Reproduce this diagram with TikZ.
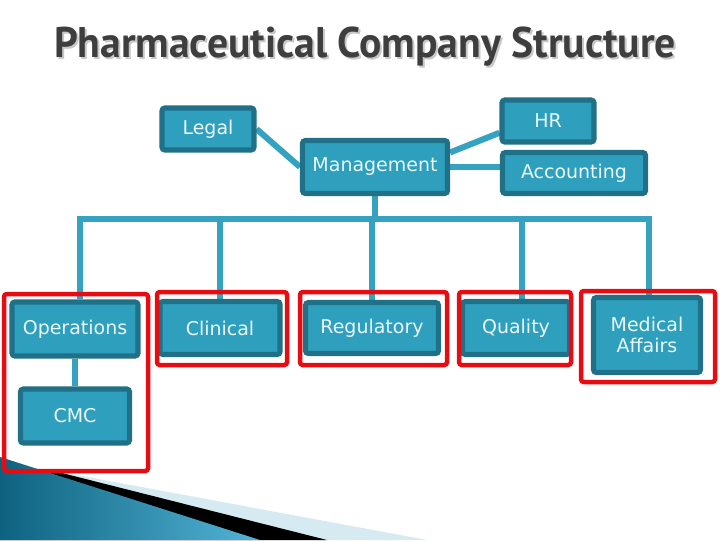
\documentclass[tikz,border=0pt]{standalone}
\usepackage{fontspec}
\setmainfont{DejaVu Sans}
\newfontfamily\titlefont[FakeStretch=0.97]{PT Sans}
\usepackage{tikz}
\usetikzlibrary{calc, backgrounds}
\usepackage{xcolor}
\definecolor{cBox}{RGB}{46,160,190}
\definecolor{cEdge}{RGB}{32,112,135}
\definecolor{cLine}{RGB}{52,162,192}
\definecolor{cText}{RGB}{235,246,250}
\definecolor{cTitle}{RGB}{62,62,62}
\definecolor{cShadow}{RGB}{200,200,200}
\definecolor{cMark}{RGB}{232,12,18}
\definecolor{cSwoopA}{RGB}{14,98,128}
\definecolor{cSwoopB}{RGB}{82,180,214}
\definecolor{cSwoopC}{RGB}{214,234,242}
\tikzset{
  unitbox/.style={rectangle, rounded corners=2pt, draw=cEdge, fill=cBox,
                  line width=3.6pt, align=center, text=cText,
                  font=\fontsize{13.5}{16}\selectfont, inner sep=2pt},
  link/.style={draw=cLine, line width=4.3pt},
  markbox/.style={draw=cMark, line width=3.2pt, rounded corners=2pt}
}

\begin{document}
\begin{tikzpicture}[x=0.025cm, y=-0.025cm]
  \useasboundingbox (0,0) rectangle (720,540);

  % title
  \node[text=cShadow, font=\titlefont\bfseries\fontsize{30.5}{34}\selectfont]
    (titleshadow) at (367,49) {Pharmaceutical Company Structure};
  \node[text=cTitle, font=\titlefont\bfseries\fontsize{30.5}{34}\selectfont]
    (title) at (365,47) {Pharmaceutical Company Structure};

  % top level
  \node[unitbox, minimum width=2.3cm, minimum height=1.05cm] (legal) at (208,129) {Legal};
  \node[unitbox, minimum width=3.625cm, minimum height=1.325cm] (mgmt) at (375,167) {Management};
  \node[unitbox, minimum width=2.3cm, minimum height=1.05cm] (hr) at (548,121) {HR};
  \node[unitbox, minimum width=3.575cm, minimum height=1.025cm] (acct) at (574,173) {Accounting};

  % departments
  \node[unitbox, minimum width=3.15cm, minimum height=1.35cm] (ops) at (75,329) {Operations};
  \node[unitbox, minimum width=2.725cm, minimum height=1.35cm] (cmc) at (75,416) {CMC};
  \node[unitbox, minimum width=3.0cm, minimum height=1.325cm] (clin) at (220,328) {Clinical};
  \node[unitbox, minimum width=3.325cm, minimum height=1.275cm] (reg) at (372,328) {Regulatory};
  \node[unitbox, minimum width=2.675cm, minimum height=1.325cm] (qual) at (516,328) {Quality};
  \node[unitbox, minimum width=2.675cm, minimum height=1.875cm] (med) at (647,335) {Medical\\[-1pt]Affairs};

  \coordinate (busL) at (80,219);
  \coordinate (busR) at (649,219);

  \begin{scope}[on background layer]
    % corner swoosh
    \fill[cSwoopC] (50,470) -- (427,540) -- (0,540) -- cycle;
    \fill[black] (50,470) -- (327,540) -- (0,540) -- cycle;
    \shade[left color=cSwoopA, right color=cSwoopB]
      (0,457) -- (260,540) -- (0,540) -- cycle;

    \draw[link] (legal.east) -- (mgmt.west);
    \draw[link] ($(mgmt.north east)!0.25!(mgmt.south east)$)
      -- ($(hr.west)!0.5!(hr.south west)$);
    \draw[link] (mgmt.east) -- (mgmt.east -| acct.west);
    \draw[link] (mgmt.south) -- (mgmt.south |- busL);
    \draw[link] (busL |- ops.north) -- (busL) -- (busR) -- (busR |- med.north);
    \draw[link] (clin.north |- busL) -- (clin.north);
    \draw[link] (reg.north |- busL) -- (reg.north);
    \draw[link] (qual.north |- busL) ++(6,0) -- ++(0,80);
    \draw[link] (ops.south) -- (cmc.north);
  \end{scope}

  % highlighted groups
  \draw[markbox] (4,294) rectangle (148,471);
  \draw[markbox] (157,292) rectangle (287,365);
  \draw[markbox] (300,292) rectangle (447,365);
  \draw[markbox] (459,292) rectangle (571,365);
  \draw[markbox] (581,291) rectangle (715,382);
\end{tikzpicture}
\end{document}
